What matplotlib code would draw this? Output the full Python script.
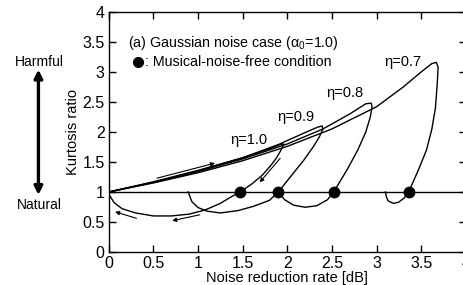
import matplotlib
matplotlib.use("Agg")
import matplotlib.pyplot as plt
from matplotlib.ticker import MultipleLocator, FuncFormatter

plt.rcParams["font.family"] = ["Liberation Sans", "DejaVu Sans"]
plt.rcParams["mathtext.fontset"] = "custom"
plt.rcParams["mathtext.rm"] = "Liberation Sans"
plt.rcParams["mathtext.it"] = "Liberation Sans:italic"

# ---- data (noise reduction rate [dB], kurtosis ratio) ----
eta10_x = [0, 0.5, 1.0, 1.5, 1.8, 1.92, 1.96, 1.95, 1.93, 1.88, 1.82, 1.72, 1.60, 1.47,
           1.35, 1.25, 1.08, 0.90, 0.70, 0.50, 0.30, 0.15, 0.06, 0.01]
eta10_y = [1, 1.17, 1.36, 1.57, 1.72, 1.79, 1.80, 1.76, 1.70, 1.57, 1.45, 1.28, 1.13, 1.0,
           0.90, 0.81, 0.70, 0.63, 0.60, 0.60, 0.65, 0.72, 0.82, 0.94]

eta09_x = [0, 0.5, 1.0, 1.5, 1.9, 2.2, 2.34, 2.39, 2.40, 2.36, 2.29, 2.18, 2.05, 1.90,
           1.80, 1.62, 1.45, 1.25, 1.10, 1.00, 0.93, 0.89]
eta09_y = [1, 1.16, 1.35, 1.57, 1.79, 1.99, 2.08, 2.10, 2.05, 1.92, 1.75, 1.52, 1.28, 1.0,
           0.86, 0.76, 0.69, 0.65, 0.68, 0.74, 0.84, 1.0]

eta08_x = [0, 0.5, 1.0, 1.5, 2.0, 2.4, 2.7, 2.88, 2.94, 2.95, 2.93, 2.88, 2.79, 2.67, 2.52,
           2.45, 2.33, 2.20, 2.07, 1.97, 1.90]
eta08_y = [1, 1.16, 1.34, 1.55, 1.80, 2.05, 2.30, 2.47, 2.48, 2.42, 2.25, 2.00, 1.70, 1.37, 1.0,
           0.87, 0.77, 0.745, 0.78, 0.87, 1.0]

eta07_x = [0, 0.5, 1.0, 1.5, 2.0, 2.5, 3.0, 3.3, 3.5, 3.62, 3.67, 3.69, 3.68, 3.66, 3.62,
           3.56, 3.47, 3.36, 3.31, 3.25, 3.19, 3.13, 3.11, 3.10]
eta07_y = [1, 1.15, 1.32, 1.52, 1.76, 2.05, 2.42, 2.75, 3.00, 3.14, 3.16, 3.08, 2.80, 2.40, 2.05,
           1.70, 1.37, 1.0, 0.90, 0.83, 0.81, 0.85, 0.92, 1.0]

free_x = [1.47, 1.90, 2.52, 3.36]   # musical-noise-free points
free_y = [1.0, 1.0, 1.0, 1.0]

eta_labels = ["\u03b7=1.0", "\u03b7=0.9", "\u03b7=0.8", "\u03b7=0.7"]
eta_label_x = [1.57, 2.10, 2.65, 3.29]
eta_label_y = [1.87, 2.25, 2.65, 3.17]

fig = plt.figure(figsize=(4.63, 2.85), dpi=100)
ax = fig.add_axes([0.235, 0.116, 0.771, 0.842])

ax.axhline(1.0, color="k", lw=1.0)
for xs, ys in [(eta10_x, eta10_y), (eta09_x, eta09_y), (eta08_x, eta08_y), (eta07_x, eta07_y)]:
    ax.plot(xs, ys, color="k", lw=1.0)
ax.plot(free_x, free_y, "o", color="k", ms=7.5, zorder=4)

for s, x, y in zip(eta_labels, eta_label_x, eta_label_y):
    ax.text(x, y, s, fontsize=10.5, ha="center", va="center")

# direction arrows
arr = dict(arrowstyle="-|>", lw=0.8, color="k", mutation_scale=6, shrinkA=0, shrinkB=0)
ax.annotate("", xy=(1.19, 1.48), xytext=(0.54, 1.23), arrowprops=arr)
ax.annotate("", xy=(1.69, 1.16), xytext=(1.92, 1.56), arrowprops=arr)
ax.annotate("", xy=(0.07, 0.67), xytext=(0.31, 0.56), arrowprops=arr)
ax.annotate("", xy=(0.71, 0.52), xytext=(1.02, 0.62), arrowprops=arr)

ax.text(0.22, 3.48, "(a) Gaussian noise case (\u03b1$_0$=1.0)", fontsize=10.3, va="center")
ax.plot([0.33], [3.17], "o", color="k", ms=7)
ax.text(0.41, 3.17, ": Musical-noise-free condition", fontsize=10.3, va="center")

ax.set_xlim(0, 4)
ax.set_ylim(0, 4)
ax.xaxis.set_major_locator(MultipleLocator(0.5))
ax.yaxis.set_major_locator(MultipleLocator(0.5))
fmt = FuncFormatter(lambda v, p: "%g" % v)
ax.xaxis.set_major_formatter(fmt)
ax.yaxis.set_major_formatter(fmt)
ax.tick_params(direction="in", length=5, width=1.0, top=True, right=True,
               labelsize=11.5, pad=3)
for sp in ax.spines.values():
    sp.set_linewidth(1.0)
ax.set_xlabel("Noise reduction rate [dB]", fontsize=10.5, labelpad=0)
ax.set_ylabel("Kurtosis ratio", fontsize=10.5, labelpad=2)

# Harmful / Natural guide on the left
fig.text(0.084, 0.782, "Harmful", fontsize=10, ha="center", va="center")
fig.text(0.084, 0.281, "Natural", fontsize=10, ha="center", va="center")
ax.annotate("", xy=(0.083, 0.756), xytext=(0.083, 0.316), xycoords="figure fraction",
            textcoords="figure fraction",
            arrowprops=dict(arrowstyle="<|-|>", lw=2.4, color="k", mutation_scale=12,
                            shrinkA=0, shrinkB=0))

fig.savefig("out.png", dpi=100)
